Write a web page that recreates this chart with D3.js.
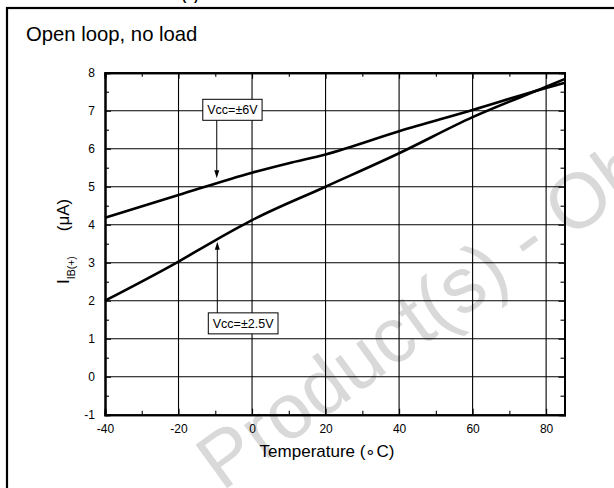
<!DOCTYPE html>
<html>
<head>
<meta charset="utf-8">
<script src="https://cdn.jsdelivr.net/npm/d3@7"></script>
<style>
  html, body { margin: 0; padding: 0; background: #fff; }
  svg { display: block; font-family: Arial, "Liberation Sans", Helvetica, sans-serif; }
</style>
</head>
<body>
<svg id="chart" width="614" height="488"></svg>
<script>
// Input bias current I_IB(+) vs temperature, two supply voltages
const temps6V   = [-40, -20, 0, 10, 20, 40, 60, 80, 85];
const ib6V      = [4.18, 4.78, 5.37, 5.62, 5.85, 6.46, 7.02, 7.60, 7.73];
const temps2V5  = [-40, -20, -10, 0, 20, 40, 60, 80, 85];
const ib2V5     = [2.00, 3.03, 3.59, 4.12, 5.00, 5.88, 6.83, 7.63, 7.83];

const xTicks = [-40, -20, 0, 20, 40, 60, 80];
const yTicks = [-1, 0, 1, 2, 3, 4, 5, 6, 7, 8];
const xMinor = [-30, -10, 10, 30, 50, 70];
const yMinor = [-0.5, 0.5, 1.5, 2.5, 3.5, 4.5, 5.5, 6.5, 7.5];

// callouts: label, box left edge (°C), box top (µA), arrow position (°C), arrow tip (µA)
const callouts = [
  { label: "Vcc=\u00B16V",   boxT: -13.4, boxTop: 7.30, t: -9.6,  tip: 5.22, dir: "down" },
  { label: "Vcc=\u00B12.5V", boxT: -11.9, boxTop: 1.68, t: -9.45, tip: 3.55, dir: "up" }
];

const svg = d3.select("#chart");
const L = 105, R = 564.5, T = 72.7, B = 414.7;

const x = d3.scaleLinear().domain([-40, 85]).range([L, R]);
const y = d3.scaleLinear().domain([-1, 8]).range([B, T]);

// outer panel frame (continues past the page edge)
svg.append("rect").attr("x", 7).attr("y", 8).attr("width", 640).attr("height", 520)
  .attr("fill", "none").attr("stroke", "#000").attr("stroke-width", 2.2);

// heading above the panel, mostly cut off by the page top
const head = svg.append("text").attr("x", 20).attr("y", -6)
  .attr("font-size", 20).attr("font-weight", "bold").attr("fill", "#000");
head.append("tspan").text("Figure 14.");
head.append("tspan").attr("x", 165).text("I");
head.append("tspan").attr("dy", 6).attr("font-size", 13).text("ib(+)");
head.append("tspan").attr("dy", -6).text(" vs. temperature");

// watermark
svg.append("text")
  .attr("transform", "translate(222,492) rotate(-36)")
  .attr("font-size", 78).attr("fill", "#d9d9d9")
  .text("Product(s) - Obsolete");

// panel title
svg.append("text").attr("x", 26).attr("y", 41).attr("font-size", 20.3)
  .attr("fill", "#000").text("Open loop, no load");

// grid
const grid = svg.append("g").attr("stroke", "#000").attr("stroke-width", 1.1);
grid.selectAll("line.gx").data(xTicks.slice(1)).join("line")
  .attr("x1", d => x(d)).attr("x2", d => x(d)).attr("y1", T).attr("y2", B);
grid.selectAll("line.gy").data(yTicks.slice(1)).join("line")
  .attr("y1", d => y(d)).attr("y2", d => y(d)).attr("x1", L).attr("x2", R);

// axes with inward ticks
const fmt = d => String(d);
svg.append("g").attr("transform", `translate(0,${B})`)
  .call(d3.axisBottom(x).tickValues(xTicks).tickSize(-6).tickPadding(10).tickFormat(fmt));
svg.append("g").attr("transform", `translate(0,${T})`)
  .call(d3.axisTop(x).tickValues(xTicks).tickSize(-6).tickFormat(""));
svg.append("g").attr("transform", `translate(${L},0)`)
  .call(d3.axisLeft(y).tickValues(yTicks).tickSize(-6).tickPadding(10).tickFormat(fmt));
svg.append("g").attr("transform", `translate(${R},0)`)
  .call(d3.axisRight(y).tickValues(yTicks).tickSize(-6).tickFormat(""));

// minor ticks
svg.append("g").attr("transform", `translate(0,${B})`)
  .call(d3.axisBottom(x).tickValues(xMinor).tickSize(-4).tickFormat(""));
svg.append("g").attr("transform", `translate(0,${T})`)
  .call(d3.axisTop(x).tickValues(xMinor).tickSize(-4).tickFormat(""));
svg.append("g").attr("transform", `translate(${L},0)`)
  .call(d3.axisLeft(y).tickValues(yMinor).tickSize(-4).tickFormat(""));
svg.append("g").attr("transform", `translate(${R},0)`)
  .call(d3.axisRight(y).tickValues(yMinor).tickSize(-4).tickFormat(""));

svg.selectAll(".domain").attr("stroke", "#000").attr("stroke-width", 2);
svg.selectAll(".tick line").attr("stroke", "#000").attr("stroke-width", 1.1);
svg.selectAll(".tick text").attr("font-size", 12).attr("fill", "#000")
  .attr("font-family", "Arial, 'Liberation Sans', sans-serif");

// axis titles
svg.append("text").attr("x", 327).attr("y", 457).attr("text-anchor", "middle")
  .attr("font-size", 17).attr("fill", "#000").text("Temperature (\u2218C)");

const yl = svg.append("text").attr("transform", "translate(69,284) rotate(-90)")
  .attr("font-size", 17).attr("fill", "#000");
yl.append("tspan").text("I");
yl.append("tspan").attr("dy", 6).attr("font-size", 10.5).text("IB(+)");
yl.append("tspan").attr("dy", -6).attr("dx", 25).text("(\u03BCA)");

// curves
const line = d3.line().x(d => x(d[0])).y(d => y(d[1])).curve(d3.curveMonotoneX);
const series = [d3.zip(temps6V, ib6V), d3.zip(temps2V5, ib2V5)];
svg.append("g").selectAll("path").data(series).join("path")
  .attr("d", line).attr("fill", "none").attr("stroke", "#000")
  .attr("stroke-width", 2.6).attr("stroke-linejoin", "round");

// callouts with arrows
callouts.forEach(c => {
  const g = svg.append("g");
  const t = g.append("text").attr("font-size", 12.5).attr("fill", "#000").text(c.label);
  const w = t.node().getComputedTextLength();
  const bw = w + 9, bh = 21;
  const ax = x(c.t);
  const bx = x(c.boxT);
  const by = y(c.boxTop);
  g.insert("rect", "text").attr("x", bx).attr("y", by).attr("width", bw).attr("height", bh)
    .attr("fill", "#fff").attr("stroke", "#000").attr("stroke-width", 1);
  t.attr("x", bx + 4.5).attr("y", by + 15);
  const tipY = y(c.tip);
  const startY = c.dir === "down" ? by + bh : by;
  const s = c.dir === "down" ? 1 : -1;
  g.append("line").attr("x1", ax).attr("x2", ax).attr("y1", startY).attr("y2", tipY - s * 6)
    .attr("stroke", "#000").attr("stroke-width", 1);
  g.append("path")
    .attr("d", `M${ax},${tipY} L${ax - 2.5},${tipY - s * 8} L${ax + 2.5},${tipY - s * 8} Z`)
    .attr("fill", "#000");
});
</script>
</body>
</html>
